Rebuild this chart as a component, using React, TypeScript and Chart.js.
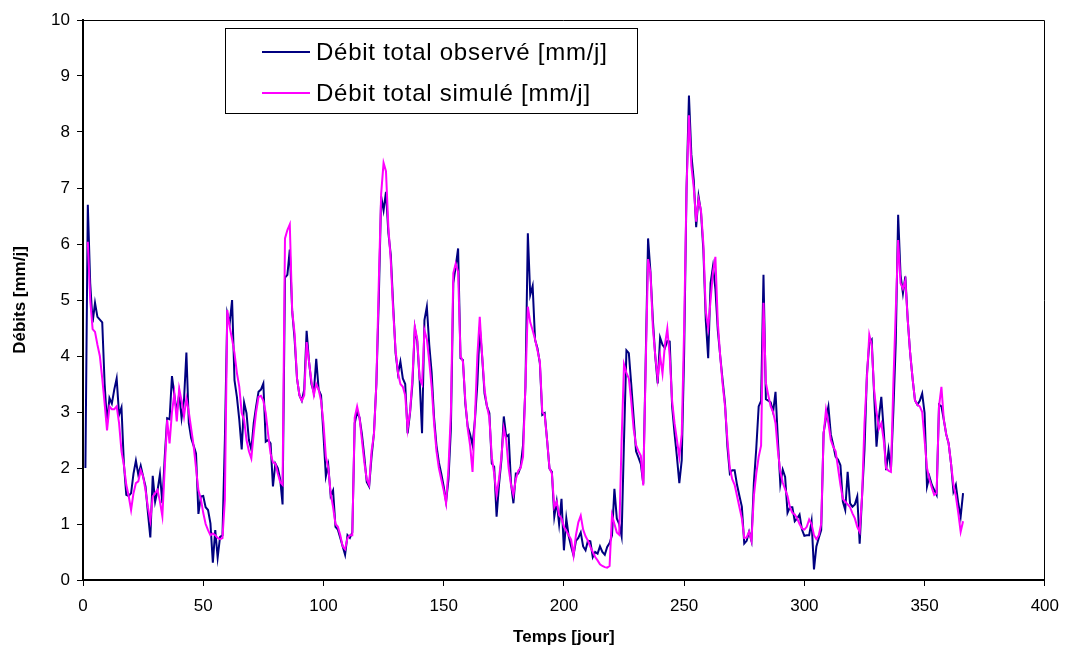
import React, { useEffect, useRef } from 'react';
import { Chart, registerables } from 'chart.js';

Chart.register(...registerables);

const DAYS: number[] = Array.from({ length: 366 }, (_, i) => i + 1);

const OBSERVED: number[] = [
  2.0, 6.7, 5.3, 4.6, 4.95, 4.7, 4.65, 4.6, 3.5, 2.8,
  3.25, 3.15, 3.4, 3.6, 2.95, 3.08, 2.08, 1.52, 1.5, 1.55,
  1.9, 2.13, 1.88, 2.04, 1.85, 1.67, 1.2, 0.76, 1.86, 1.4,
  1.6, 1.89, 1.37, 2.2, 2.89, 2.87, 3.64, 3.3, 3.0, 3.33,
  2.89, 3.21, 4.06, 2.8, 2.53, 2.4, 2.26, 1.18, 1.49, 1.5,
  1.3, 1.25, 1.01, 0.31, 0.89, 0.4, 0.77, 0.8, 2.5, 4.76,
  4.58, 5.0, 3.57, 3.27, 2.86, 2.33, 3.17, 2.98, 2.5, 2.33,
  2.8, 3.1, 3.36, 3.4, 3.51, 2.47, 2.5, 2.44, 1.67, 2.08,
  2.0, 1.8, 1.35, 5.4, 5.45, 5.9, 4.8, 4.3, 3.6, 3.3,
  3.2, 3.4, 4.45, 3.9, 3.5, 3.35, 3.95, 3.4, 3.3, 2.6,
  1.85, 2.05, 1.5, 1.6, 0.95, 0.9, 0.75, 0.6, 0.45, 0.8,
  0.75, 0.85, 2.8, 3.0, 2.9, 2.6, 2.2, 1.75, 1.67, 2.2,
  2.62, 3.5, 5.0, 6.85, 6.6, 6.93, 6.2, 5.8, 4.9, 4.05,
  3.69, 3.9, 3.6, 3.5, 2.62, 2.98, 3.5, 4.5, 4.26, 3.57,
  2.62, 4.64, 4.88, 4.2, 3.7, 2.9, 2.4, 2.1, 1.9, 1.67,
  1.4, 1.8, 2.7, 5.3, 5.6, 5.92, 3.96, 3.93, 3.15, 2.74,
  2.6, 2.41, 2.86, 3.5, 4.52, 3.99, 3.33, 3.1, 2.98, 2.08,
  2.02, 1.13, 1.7, 2.14, 2.92, 2.56, 2.59, 1.73, 1.37, 1.9,
  1.9, 2.02, 2.41, 3.45, 6.19, 5.09, 5.25, 4.29, 4.14, 3.87,
  2.95, 2.98, 2.5, 1.99, 1.93, 1.13, 1.4, 1.0, 1.45, 0.53,
  1.1, 0.78, 0.6, 0.44, 0.7, 0.75, 0.85, 0.6, 0.53, 0.7,
  0.69, 0.41, 0.5, 0.47, 0.6, 0.5, 0.45, 0.59, 0.66, 0.8,
  1.63, 1.1, 1.0, 0.78, 2.5, 4.1, 4.05, 3.5, 2.9, 2.3,
  2.19, 2.07, 1.72, 3.9, 6.1, 5.5, 4.64, 3.99, 3.51, 4.33,
  4.2, 4.14, 4.27, 4.26, 3.1, 2.62, 2.2, 1.73, 2.14, 4.05,
  7.0, 8.65, 7.6, 7.14, 6.3, 6.85, 6.58, 5.89, 4.64, 3.96,
  5.3, 5.6, 5.2, 4.46, 4.0, 3.57, 3.15, 2.38, 1.9, 1.96,
  1.96, 1.7, 1.5, 1.31, 0.65, 0.7, 0.86, 0.7, 1.74, 2.35,
  3.1, 3.2, 5.45, 3.23, 3.2, 3.17, 3.0, 3.36, 2.5, 1.71,
  1.97, 1.84, 1.2, 1.3, 1.3, 1.05, 1.1, 1.17, 0.9, 0.79,
  0.8, 0.8, 1.05, 0.19, 0.6, 0.75, 0.89, 2.63, 2.9, 3.1,
  2.6, 2.41, 2.2, 2.15, 2.05, 1.4, 1.25, 1.93, 1.37, 1.31,
  1.35, 1.49, 0.65, 1.5, 2.32, 3.66, 4.23, 4.29, 3.33, 2.38,
  2.9, 3.27, 2.68, 1.96, 2.32, 1.96, 3.0, 4.23, 6.52, 5.45,
  5.12, 5.42, 4.64, 4.05, 3.6, 3.21, 3.13, 3.2, 3.33, 2.98,
  1.67, 1.85, 1.7, 1.61, 1.52, 3.13, 3.1, 2.86, 2.6, 2.44,
  2.08, 1.58, 1.7, 1.37, 1.13, 1.55,
];

const SIMULATED: (number | null)[] = [
  null, 6.04, 5.0, 4.48, 4.43, 4.2, 4.0, 3.6, 3.15, 2.67,
  3.1, 3.05, 3.05, 3.1, 2.8, 2.3, 2.05, 1.7, 1.5, 1.25,
  1.55, 1.73, 1.76, 1.96, 1.85, 1.6, 1.3, 1.06, 1.49, 1.55,
  1.61, 1.4, 1.14, 2.0, 2.86, 2.44, 3.0, 3.33, 2.83, 3.42,
  3.2, 2.92, 3.24, 3.0, 2.7, 2.4, 2.0, 1.6, 1.45, 1.2,
  1.0, 0.89, 0.8, 0.83, 0.8, 0.75, 0.73, 0.75, 1.43, 4.82,
  4.52, 4.3, 4.05, 3.7, 3.45, 2.98, 2.86, 2.5, 2.3, 2.17,
  2.62, 3.0, 3.27, 3.29, 3.2, 2.98, 2.6, 2.26, 2.1, 2.08,
  1.9, 1.75, 1.7, 6.1, 6.25, 6.35, 4.8, 4.4, 3.6, 3.3,
  3.2, 3.3, 4.25, 3.9, 3.55, 3.3, 3.5, 3.4, 3.2, 2.8,
  2.2, 2.0, 1.55, 1.3, 1.0, 0.95, 0.8, 0.6, 0.55, 0.75,
  0.8, 0.8, 2.9, 3.1, 2.9, 2.5, 2.1, 1.8, 1.7, 2.3,
  2.6, 3.5, 5.3, 6.9, 7.45, 7.3, 6.3, 5.7, 4.8, 4.1,
  3.7, 3.5, 3.45, 3.3, 2.7, 3.0, 3.6, 4.52, 4.3, 3.6,
  3.5, 4.46, 4.3, 3.9, 3.45, 2.8, 2.3, 2.0, 1.8, 1.6,
  1.37, 2.0, 3.0, 5.48, 5.65, 5.5, 4.0, 3.9, 3.2, 2.7,
  2.4, 1.93, 2.9, 4.0, 4.7, 4.0, 3.4, 3.1, 2.9, 2.2,
  1.9, 1.52, 1.8, 2.2, 2.71, 2.5, 2.0, 1.7, 1.52, 1.8,
  1.95, 2.0, 2.2, 3.5, 4.88, 4.6, 4.46, 4.3, 4.1, 3.9,
  3.0, 2.95, 2.5, 2.0, 1.9, 1.3, 1.4, 1.16, 1.1, 0.95,
  0.88, 0.8, 0.72, 0.44, 0.8, 1.03, 1.15, 0.9, 0.78, 0.7,
  0.59, 0.5, 0.41, 0.35, 0.28, 0.25, 0.23, 0.22, 0.25, 1.16,
  1.0, 0.85, 0.81, 2.5, 3.85, 3.7, 3.6, 3.2, 2.7, 2.41,
  2.3, 2.22, 1.69, 3.8, 5.73, 5.48, 4.5, 4.0, 3.6, 4.0,
  3.69, 4.2, 4.49, 4.0, 3.2, 2.8, 2.5, 2.2, 2.6, 4.5,
  7.0, 8.3, 7.4, 7.0, 6.4, 6.8, 6.6, 6.0, 4.8, 4.5,
  5.0, 5.5, 5.77, 4.6, 4.0, 3.5, 3.1, 2.5, 2.0, 1.8,
  1.7, 1.5, 1.3, 1.1, 0.75, 0.76, 0.86, 0.7, 1.5, 1.9,
  2.2, 2.4, 4.95, 3.52, 3.3, 3.1, 3.0, 2.8, 2.3, 1.93,
  1.74, 1.62, 1.5, 1.3, 1.2, 1.17, 1.1, 1.0, 0.92, 0.9,
  0.95, 1.08, 1.0, 0.8, 0.73, 0.8, 1.0, 2.6, 3.04, 2.8,
  2.5, 2.38, 2.3, 2.0, 1.7, 1.45, 1.4, 1.35, 1.3, 1.19,
  1.1, 0.95, 0.86, 1.5, 2.8, 3.6, 4.38, 4.2, 3.4, 3.0,
  2.7, 2.8, 2.5, 2.0, 1.95, 1.93, 3.5, 4.8, 6.07, 5.3,
  5.2, 5.35, 4.64, 4.05, 3.6, 3.21, 3.13, 3.1, 3.0, 2.5,
  2.0, 1.8, 1.65, 1.52, 1.55, 3.1, 3.45, 2.86, 2.6, 2.44,
  2.08, 1.7, 1.5, 1.2, 0.86, 1.05,
];

const X_TICKS: number[] = [0, 50, 100, 150, 200, 250, 300, 350, 400];
const Y_TICKS: number[] = [0, 1, 2, 3, 4, 5, 6, 7, 8, 9, 10];
const SERIES_LABELS: string[] = ['Débit total observé [mm/j]', 'Débit total simulé [mm/j]'];
const SERIES_COLORS: string[] = ['#000080', '#FF00FF'];
const X_TITLE = 'Temps [jour]';
const Y_TITLE = 'Débits [mm/j]';

const FONT = "'Liberation Sans', Arial, sans-serif";

const framePlugin = {
  id: 'plotFrame',
  afterDatasetsDraw(chart: any) {
    const { ctx, chartArea } = chart;
    const { left, top, right, bottom } = chartArea;
    ctx.save();
    ctx.strokeStyle = '#000';
    ctx.lineWidth = 1;
    ctx.beginPath();
    ctx.moveTo(left, Math.round(top) + 0.5);
    ctx.lineTo(Math.round(right) - 0.5, Math.round(top) + 0.5);
    ctx.lineTo(Math.round(right) - 0.5, bottom);
    ctx.stroke();
    ctx.restore();
  },
};

const boxLegendPlugin = {
  id: 'boxLegend',
  afterDraw(chart: any) {
    const { ctx } = chart;
    const bx = 225, by = 28, bw = 412, bh = 85;
    ctx.save();
    ctx.fillStyle = '#fff';
    ctx.fillRect(bx, by, bw, bh);
    ctx.strokeStyle = '#000';
    ctx.lineWidth = 1;
    ctx.strokeRect(bx + 0.5, by + 0.5, bw, bh);
    const rows = [52, 93];
    chart.data.datasets.forEach((ds: any, i: number) => {
      const y = rows[i];
      ctx.strokeStyle = ds.borderColor;
      ctx.lineWidth = 2;
      ctx.beginPath();
      ctx.moveTo(262, y);
      ctx.lineTo(310, y);
      ctx.stroke();
      ctx.fillStyle = '#000';
      ctx.font = `24px ${FONT}`;
      try { (ctx as any).letterSpacing = '0.75px'; } catch (e) {}
      ctx.textBaseline = 'middle';
      ctx.textAlign = 'left';
      ctx.fillText(ds.label, 316, y + 1);
    });
    ctx.restore();
  },
};

export default function App() {
  const canvasRef = useRef<HTMLCanvasElement | null>(null);

  useEffect(() => {
    document.body.style.margin = '0';
    const canvas = canvasRef.current;
    if (!canvas) return;
    const chart = new Chart(canvas, {
      type: 'line',
      data: {
        datasets: [
          {
            label: SERIES_LABELS[0],
            data: OBSERVED.map((v, i) => ({ x: DAYS[i], y: v })),
            borderColor: SERIES_COLORS[0],
            backgroundColor: SERIES_COLORS[0],
            borderWidth: 2,
            pointRadius: 0,
            tension: 0,
            fill: false,
            order: 1,
          },
          {
            label: SERIES_LABELS[1],
            data: SIMULATED.map((v, i) => ({ x: DAYS[i], y: v })),
            borderColor: SERIES_COLORS[1],
            backgroundColor: SERIES_COLORS[1],
            borderWidth: 2,
            pointRadius: 0,
            tension: 0,
            fill: false,
            spanGaps: false,
            order: 0,
          },
        ],
      },
      options: {
        animation: false,
        responsive: false,
        maintainAspectRatio: false,
        layout: { padding: { left: 0, top: 20, right: 19, bottom: 0 } },
        plugins: {
          legend: { display: false },
          tooltip: { enabled: false },
        },
        scales: {
          x: {
            type: 'linear',
            min: 0,
            max: 400,
            afterBuildTicks: (scale: any) => {
              scale.ticks = X_TICKS.map((v) => ({ value: v }));
            },
            afterFit: (scale: any) => {
              scale.height = 69;
            },
            ticks: {
              color: '#000',
              font: { family: FONT, size: 17 },
              padding: 10,
              maxRotation: 0,
            },
            grid: {
              drawOnChartArea: false,
              drawTicks: true,
              tickLength: 6,
              color: '#000',
              lineWidth: 1,
            },
            border: { display: true, color: '#000', width: 2 },
            title: {
              display: true,
              text: X_TITLE,
              color: '#000',
              font: { family: FONT, size: 17, weight: 'bold' },
              padding: { top: 0, bottom: 1 },
            },
          },
          y: {
            type: 'linear',
            min: 0,
            max: 10,
            afterBuildTicks: (scale: any) => {
              scale.ticks = Y_TICKS.map((v) => ({ value: v }));
            },
            afterFit: (scale: any) => {
              scale.width = 83;
            },
            ticks: {
              color: '#000',
              font: { family: FONT, size: 17 },
              padding: 7,
            },
            grid: {
              drawOnChartArea: false,
              drawTicks: true,
              tickLength: 6,
              color: '#000',
              lineWidth: 1,
            },
            border: { display: true, color: '#000', width: 2 },
            title: {
              display: true,
              text: Y_TITLE,
              color: '#000',
              font: { family: FONT, size: 17, weight: 'bold' },
              padding: { top: 10, bottom: 0 },
            },
          },
        },
      },
      plugins: [framePlugin, boxLegendPlugin],
    } as any);
    return () => {
      chart.destroy();
    };
  }, []);

  return (
    <div style={{ position: 'absolute', left: 0, top: 0, width: 1069, height: 649, background: '#fff' }}>
      <canvas ref={canvasRef} width={1069} height={649} style={{ width: 1069, height: 649, display: 'block' }} />
    </div>
  );
}
